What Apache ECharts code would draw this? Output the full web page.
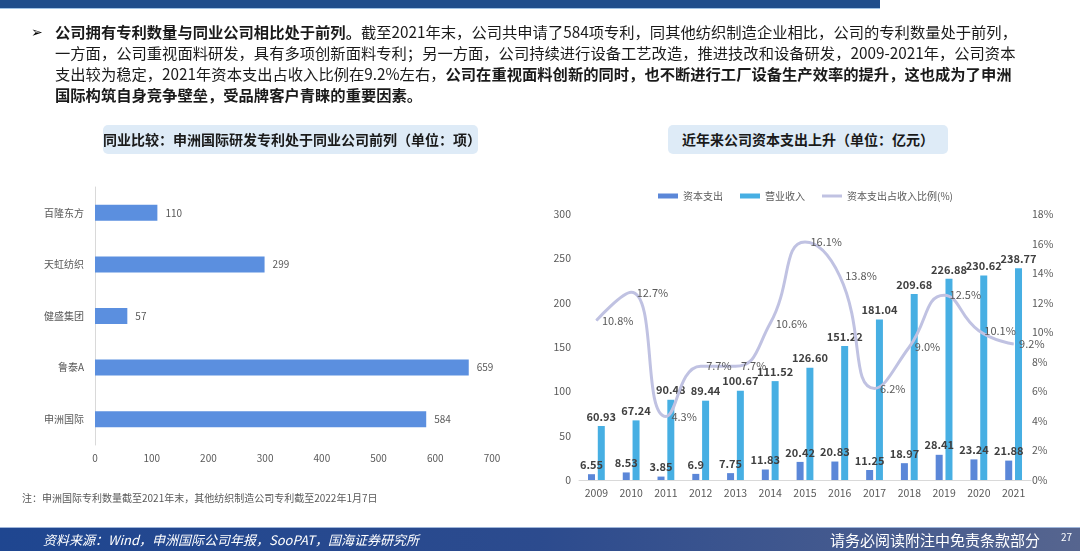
<!DOCTYPE html>
<html>
<head>
<meta charset="utf-8">
<script src="https://cdn.jsdelivr.net/npm/echarts@6/dist/echarts.min.js"></script>
<style>
  body { margin: 0; width: 1080px; height: 552px; overflow: hidden; background: #fff;
    font-family: "Noto Sans CJK SC", "Noto Sans", sans-serif; position: relative; }
  #chart { position: absolute; left: 0; top: 0; width: 1080px; height: 552px; }
  .topbar { position: absolute; left: 0; top: 0; width: 880px; height: 8px; background: #1f4e8c;
    border-bottom: 1px solid #9fc3e6; }
  .para { position: absolute; left: 55px; top: 21px; font-size: 15.3px; line-height: 21px;
    color: #1a1a1a; white-space: nowrap; }
  .para b { font-weight: bold; }
  .bullet { position: absolute; left: 31px; top: 21px; font-size: 14px; line-height: 21px; color: #000; }
  .tbox { position: absolute; height: 29px; line-height: 29px; background: #deebf7; border-radius: 5px;
    text-align: center; font-size: 14px; font-weight: bold; color: #1a1a1a; }
  .note { position: absolute; left: 22px; top: 490px; font-size: 10px; color: #595959; }
  .footer { position: absolute; left: 0; top: 527px; width: 1080px; height: 23px;
    background: linear-gradient(90deg, #1f4690 0%, #2c4b8e 50%, #56658f 100%);
    border-top: 1px solid #9fb6da; color: #fff; }
  .src { position: absolute; left: 43px; top: 0; line-height: 23px; font-size: 13px; font-style: italic; }
  .disc { position: absolute; left: 830px; top: 0; line-height: 23px; font-size: 15px; }
  .pg { position: absolute; left: 1061px; top: -3px; line-height: 23px; font-size: 10px; }
</style>
</head>
<body>
<div id="chart"></div>
<div class="topbar"></div>
<div class="bullet">➢</div>
<div class="para">
<b>公司拥有专利数量与同业公司相比处于前列。</b>截至2021年末，公司共申请了584项专利，同其他纺织制造企业相比，公司的专利数量处于前列，<br>
一方面，公司重视面料研发，具有多项创新面料专利；另一方面，公司持续进行设备工艺改造，推进技改和设备研发，2009-2021年，公司资本<br>
支出较为稳定，2021年资本支出占收入比例在9.2%左右，<b>公司在重视面料创新的同时，也不断进行工厂设备生产效率的提升，这也成为了申洲</b><br>
<b>国际构筑自身竞争壁垒，受品牌客户青睐的重要因素。</b>
</div>
<div class="tbox" style="left:103px; top:125px; width:375px;">同业比较：申洲国际研发专利处于同业公司前列（单位：项）</div>
<div class="tbox" style="left:668px; top:125px; width:280px;">近年来公司资本支出上升（单位：亿元）</div>
<div class="note">注：申洲国际专利数量截至2021年末，其他纺织制造公司专利截至2022年1月7日</div>
<div class="footer">
  <div class="src">资料来源：Wind，申洲国际公司年报，SooPAT，国海证券研究所</div>
  <div class="disc">请务必阅读附注中免责条款部分</div>
  <div class="pg">27</div>
</div>
<script>
// left chart: patents by company (bottom to top)
const companies = ["申洲国际", "鲁泰A", "健盛集团", "天虹纺织", "百隆东方"];
const patents = [584, 659, 57, 299, 110];

// right chart: capex vs revenue
const years = ["2009", "2010", "2011", "2012", "2013", "2014", "2015", "2016", "2017", "2018", "2019", "2020", "2021"];
const capex = [6.55, 8.53, 3.85, 6.9, 7.75, 11.83, 20.42, 20.83, 11.25, 18.97, 28.41, 23.24, 21.88];
const revenue = [60.93, 67.24, 90.48, 89.44, 100.67, 111.52, 126.60, 151.22, 181.04, 209.68, 226.88, 230.62, 238.77];
const capexRatio = [10.8, 12.7, 4.3, 7.7, 7.7, 10.6, 16.1, 13.8, 6.2, 9.0, 12.5, 10.1, 9.2];

const gray = "#595959";
const chart = echarts.init(document.getElementById("chart"));

chart.setOption({
  animation: false,
  textStyle: { fontFamily: "Noto Sans CJK SC, Noto Sans, sans-serif" },
  legend: {
    left: 653, top: 186, itemWidth: 20, itemHeight: 5, itemGap: 17,
    textStyle: { fontSize: 10, color: gray },
    data: [
      { name: "资本支出", icon: "rect" },
      { name: "营业收入", icon: "rect" },
      { name: "资本支出占收入比例(%)", icon: "path://M0,0 L40,0 L40,6 L0,6 Z" },
    ],
  },
  grid: [
    { left: 95, top: 187, width: 397, height: 258 },
    { left: 579, top: 214, width: 452, height: 266 },
  ],
  xAxis: [
    {
      gridIndex: 0, type: "value", min: 0, max: 700, interval: 100,
      axisLine: { show: false }, axisTick: { show: false }, splitLine: { show: false },
      axisLabel: { fontSize: 10, color: gray, margin: 8 },
    },
    {
      gridIndex: 1, type: "category", data: years,
      axisLine: { lineStyle: { color: "#d9d9d9" } }, axisTick: { show: false },
      axisLabel: { fontSize: 10.5, color: gray, margin: 8 },
    },
  ],
  yAxis: [
    {
      gridIndex: 0, type: "category", data: companies,
      axisLine: { lineStyle: { color: "#d9d9d9" } }, axisTick: { show: false },
      axisLabel: { fontSize: 10, color: gray, margin: 11 },
    },
    {
      gridIndex: 1, type: "value", min: 0, max: 300, interval: 50,
      axisLine: { show: false }, axisTick: { show: false }, splitLine: { show: false },
      axisLabel: { fontSize: 10.5, color: gray, margin: 8 },
    },
    {
      gridIndex: 1, type: "value", min: 0, max: 18, interval: 2, position: "right",
      axisLine: { show: false }, axisTick: { show: false }, splitLine: { show: false },
      axisLabel: { fontSize: 10.5, color: gray, margin: 1, formatter: "{value}%" },
    },
  ],
  series: [
    {
      type: "bar", xAxisIndex: 0, yAxisIndex: 0, data: patents, barWidth: 16,
      itemStyle: { color: "#5b8fdf" },
      label: { show: true, position: "right", distance: 8, fontSize: 10, color: gray },
    },
    {
      name: "资本支出", type: "bar", xAxisIndex: 1, yAxisIndex: 1, data: capex,
      barWidth: 7, barGap: "40%", itemStyle: { color: "#5b87d8" },
      label: { show: true, position: "top", distance: 4, fontSize: 11, fontWeight: "bold", color: "#404040",
        formatter: (p) => String(p.value) },
    },
    {
      name: "营业收入", type: "bar", xAxisIndex: 1, yAxisIndex: 1, data: revenue,
      barWidth: 7, itemStyle: { color: "#47afe3" },
      label: { show: true, position: "top", distance: 4, fontSize: 11, fontWeight: "bold", color: "#404040",
        formatter: (p) => p.value.toFixed(2) },
    },
    {
      name: "资本支出占收入比例(%)", type: "line", xAxisIndex: 1, yAxisIndex: 2, data: capexRatio,
      smooth: 0.5, symbol: "circle", symbolSize: 1, z: 5,
      lineStyle: { color: "#c0c2e2", width: 3 }, itemStyle: { color: "#c0c2e2" },
      label: { show: true, position: "right", distance: 5, fontSize: 11, color: gray,
        formatter: (p) => p.value.toFixed(1) + "%" },
    },
  ],
});
</script>
</body>
</html>
